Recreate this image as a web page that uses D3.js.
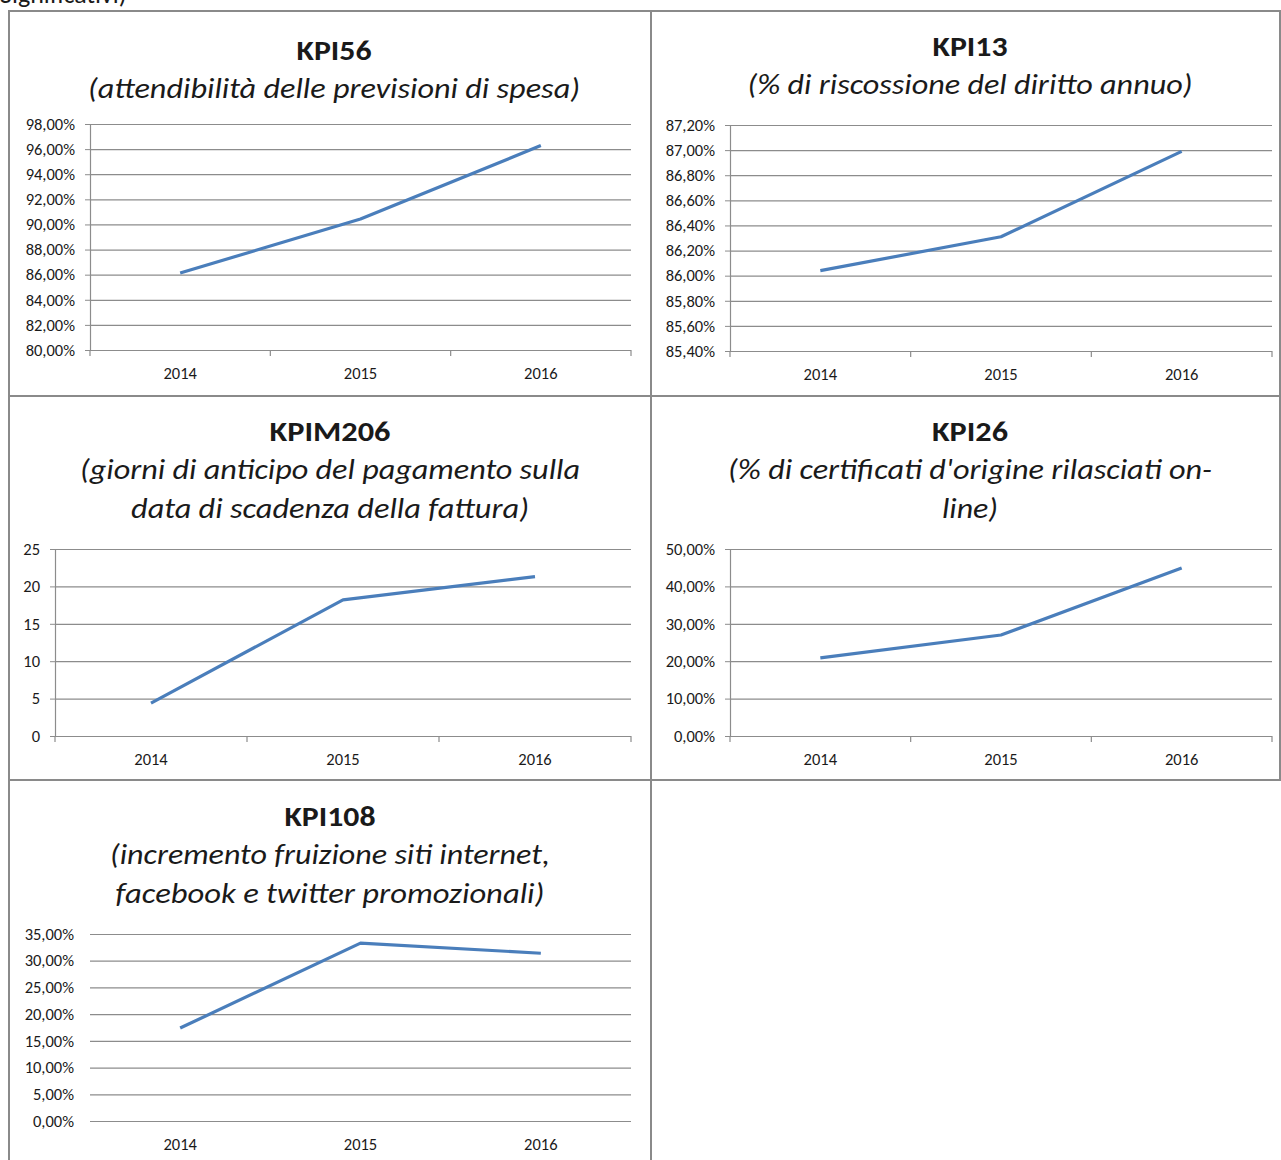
<!DOCTYPE html>
<html>
<head>
<meta charset="utf-8">
<script src="https://cdn.jsdelivr.net/npm/d3@7"></script>
<style>
  body { margin: 0; background: #fff; }
  svg { display: block; }
  text { font-family: Carlito, Lato, "Open Sans", sans-serif; fill: #1a1a1a; }
</style>
</head>
<body>
<svg id="chart" width="1281" height="1160"></svg>
<script>
// ---------------- DATA ----------------
const years = ["2014", "2015", "2016"];

const kpi56Values = [0.8613, 0.9043, 0.9628];
const kpi56Ticks = [0.80, 0.82, 0.84, 0.86, 0.88, 0.90, 0.92, 0.94, 0.96, 0.98];

const kpi13Values = [0.8604, 0.8631, 0.8699];
const kpi13Ticks = [0.854, 0.856, 0.858, 0.860, 0.862, 0.864, 0.866, 0.868, 0.870, 0.872];

const kpim206Values = [4.4, 18.2, 21.3];
const kpim206Ticks = [0, 5, 10, 15, 20, 25];

const kpi26Values = [0.209, 0.270, 0.449];
const kpi26Ticks = [0.0, 0.1, 0.2, 0.3, 0.4, 0.5];

const kpi108Values = [0.174, 0.333, 0.314];
const kpi108Ticks = [0.0, 0.05, 0.10, 0.15, 0.20, 0.25, 0.30, 0.35];

const titles = ["KPI56", "KPI13", "KPIM206", "KPI26", "KPI108"];
const subtitles = [
  ["(attendibilità delle previsioni di spesa)"],
  ["(% di riscossione del diritto annuo)"],
  ["(giorni di anticipo del pagamento sulla", "data di scadenza della fattura)"],
  ["(% di certificati d'origine rilasciati on-", "line)"],
  ["(incremento fruizione siti internet,", "facebook e twitter promozionali)"]
];
const headerText = "Significativi)";

// ---------------- LAYOUT ----------------
const itLocale = d3.formatLocale({decimal: ",", thousands: ".", grouping: [3], currency: ["€", ""]});
const pct = itLocale.format(".2%");
const intf = itLocale.format("d");

const panels = [
  {values: kpi56Values, ticks: kpi56Ticks, fmt: pct, left: 90, right: 631, top: 124, bottom: 350, cx: 334,
   titleY: 60, subY: [98], subW: [492], titleW: 75, axes: true},
  {values: kpi13Values, ticks: kpi13Ticks, fmt: pct, left: 730, right: 1272, top: 125, bottom: 351, cx: 970,
   titleY: 56, subY: [94], subW: [445], titleW: 75, axes: true},
  {values: kpim206Values, ticks: kpim206Ticks, fmt: intf, left: 55, right: 631, top: 549, bottom: 736, cx: 330,
   titleY: 441, subY: [479, 518], subW: [500, 398], titleW: 121, axes: true},
  {values: kpi26Values, ticks: kpi26Ticks, fmt: pct, left: 730, right: 1272, top: 549, bottom: 736, cx: 970,
   titleY: 441, subY: [479, 518], subW: [484, 56], titleW: 76, axes: true},
  {values: kpi108Values, ticks: kpi108Ticks, fmt: pct, left: 90, right: 631, top: 934, bottom: 1121, cx: 330,
   titleY: 826, subY: [864, 903], subW: [440, 429], titleW: 91, axes: false}
];

const svg = d3.select("#chart");
const borderColor = "#8a8a8a";
const gridColor = "#8c8c8c";
const lineColor = "#4a7ebb";
const tickFont = 16.5;

// cut header text (cut off at top edge, as in the reference)
svg.append("text").attr("x", 0).attr("y", 3).attr("font-size", 26).text(headerText);

// table borders
const borders = svg.append("g").attr("stroke", borderColor).attr("stroke-width", 2).attr("fill", "none");
borders.append("line").attr("x1", 9).attr("x2", 1281).attr("y1", 11).attr("y2", 11);
borders.append("line").attr("x1", 9).attr("x2", 1281).attr("y1", 396).attr("y2", 396);
borders.append("line").attr("x1", 9).attr("x2", 1281).attr("y1", 780).attr("y2", 780);
borders.append("line").attr("x1", 9).attr("x2", 9).attr("y1", 10).attr("y2", 1160);
borders.append("line").attr("x1", 651).attr("x2", 651).attr("y1", 10).attr("y2", 1160);
borders.append("line").attr("x1", 1280).attr("x2", 1280).attr("y1", 10).attr("y2", 780);

panels.forEach((p, i) => {
  const g = svg.append("g");
  const x = d3.scaleBand().domain(years).range([p.left, p.right]);
  const y = d3.scaleLinear().domain([p.ticks[0], p.ticks[p.ticks.length - 1]]).range([p.bottom, p.top]);

  // title
  g.append("text").attr("x", p.cx).attr("y", p.titleY).attr("text-anchor", "middle")
    .attr("font-size", 29).attr("font-weight", "bold")
    .attr("textLength", p.titleW).attr("lengthAdjust", "spacingAndGlyphs")
    .text(titles[i]);
  subtitles[i].forEach((s, j) => {
    g.append("text").attr("x", p.cx).attr("y", p.subY[j]).attr("text-anchor", "middle")
      .attr("font-size", 28).attr("font-style", "italic")
      .attr("textLength", p.subW[j]).attr("lengthAdjust", "spacingAndGlyphs")
      .text(s);
  });

  // gridlines
  const grid = g.append("g").attr("transform", `translate(${p.left},0)`)
    .call(d3.axisLeft(y).tickValues(p.ticks).tickSize(-(p.right - p.left)).tickFormat(""));
  grid.select(".domain").remove();
  grid.selectAll(".tick line").attr("stroke", gridColor).attr("stroke-width", 1.2)
    .filter(d => p.axes && d === p.ticks[0]).remove();

  // y axis labels + ticks
  const ya = g.append("g").attr("transform", `translate(${p.left},0)`)
    .call(d3.axisLeft(y).tickValues(p.ticks).tickFormat(p.fmt).tickSize(p.axes ? 5 : 0).tickPadding(p.axes ? 10 : 16));
  ya.attr("font-size", null).attr("font-family", null);
  ya.selectAll(".tick text").style("font-size", tickFont + "px").attr("fill", "#1a1a1a");
  ya.selectAll(".tick line").attr("stroke", gridColor);
  if (p.axes) {
    ya.select(".domain").attr("stroke", gridColor).attr("stroke-width", 1.2).attr("d", `M0.5,${p.bottom}V${p.top}`);
  } else {
    ya.select(".domain").remove();
  }

  // x axis
  const xa = g.append("g").attr("transform", `translate(0,${p.bottom})`)
    .call(d3.axisBottom(x).tickSize(0).tickPadding(17));
  xa.attr("font-size", null).attr("font-family", null);
  xa.selectAll(".tick text").style("font-size", tickFont + "px").attr("fill", "#1a1a1a");
  if (p.axes) {
    xa.select(".domain").attr("stroke", gridColor).attr("stroke-width", 1.2).attr("d", `M${p.left},0.5H${p.right}`);
    const bounds = years.map(d => x(d)).concat([p.right]);
    xa.selectAll(".bt").data(bounds).join("line").attr("class", "bt")
      .attr("x1", d => d).attr("x2", d => d).attr("y1", 0).attr("y2", 6)
      .attr("stroke", gridColor).attr("stroke-width", 1.2);
  } else {
    xa.select(".domain").remove();
  }

  // line
  const line = d3.line().x((d, k) => x(years[k]) + x.bandwidth() / 2).y(d => y(d));
  g.append("path").datum(p.values).attr("d", line)
    .attr("fill", "none").attr("stroke", lineColor).attr("stroke-width", 3.2).attr("stroke-linejoin", "round");
});
</script>
</body>
</html>
